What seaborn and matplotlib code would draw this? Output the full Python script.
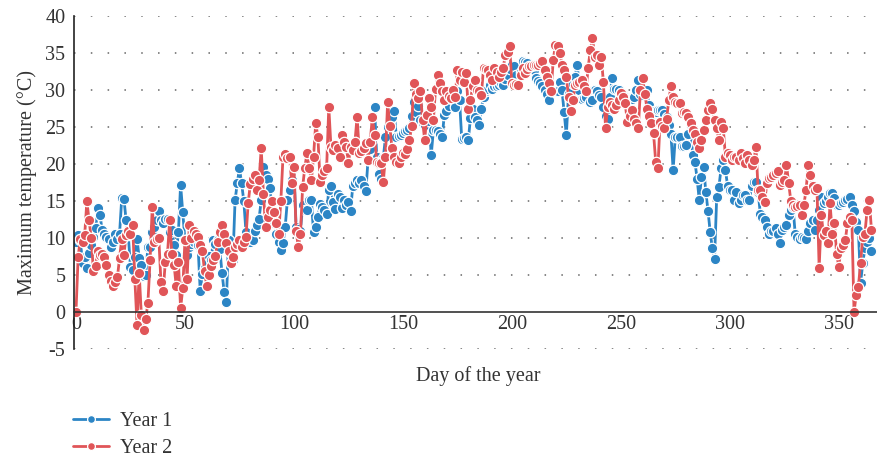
import numpy as np
import pandas as pd
import matplotlib
matplotlib.use("Agg")
import matplotlib.pyplot as plt
import seaborn as sns

year1 = [
    9.5, 10.4, 9.7, 6.6, 7.4, 5.9, 8.0, 9.1, 10.2, 11.3,
    14.0, 13.1, 11.1, 10.5, 10.2, 9.9, 8.8, 9.5, 10.6, 9.9,
    10.6, 15.4, 15.3, 12.4, 10.4, 6.1, 5.7, 7.5, 9.9, 7.3,
    6.4, 4.8, 5.0, 8.8, 8.8, 10.8, 11.5, 12.4, 13.7, 12.4,
    12.0, 12.6, 12.6, 10.8, 11.1, 9.0, 7.7, 10.8, 17.2, 13.5,
    9.7, 7.7, 8.8, 9.2, 9.5, 10.2, 9.0, 2.9, 5.2, 6.0,
    6.6, 7.6, 7.0, 9.7, 9.2, 9.7, 8.5, 5.3, 2.7, 1.4,
    9.7, 8.0, 7.0, 15.1, 17.4, 19.4, 17.4, 15.0, 10.8, 9.3,
    9.5, 9.7, 11.0, 11.8, 12.6, 15.1, 19.6, 18.5, 18.0, 16.7,
    13.8, 12.0, 10.6, 9.5, 8.4, 9.3, 11.5, 15.1, 16.5, 17.8,
    19.4, 11.5, 11.2, 11.0, 14.4, 13.8, 13.8, 15.1, 15.1, 10.8,
    11.5, 12.8, 14.6, 14.2, 13.8, 13.3, 16.5, 17.0, 14.8, 13.9,
    16.0, 15.5, 14.0, 15.2, 14.5, 14.8, 13.7, 17.0, 17.4, 17.8,
    17.4, 17.8, 17.0, 16.3, 20.5, 22.0, 23.2, 27.7, 21.0, 18.7,
    18.0, 20.8, 23.6, 25.0, 26.0, 26.4, 27.1, 23.6, 23.8, 23.9,
    24.2, 24.4, 24.6, 24.8, 26.5, 28.4, 27.0, 27.9, 26.0, 25.5,
    25.3, 25.8, 25.8, 21.2, 24.6, 24.6, 24.4, 24.0, 23.6, 26.6,
    27.2, 27.9, 29.6, 28.6, 27.7, 29.8, 28.6, 23.4, 23.5, 23.7,
    23.2, 26.2, 27.5, 26.4, 26.0, 25.3, 27.5, 29.1, 29.8, 30.2,
    30.7, 30.2, 30.5, 30.5, 30.7, 31.0, 30.7, 31.5, 32.0, 32.8,
    33.4, 33.2, 32.0, 30.7, 32.5, 33.9, 33.8, 33.6, 33.0, 32.8,
    32.7, 31.6, 31.2, 30.9, 30.5, 30.0, 29.5, 28.6, 29.8, 29.8,
    29.8, 29.8, 31.1, 30.0, 27.0, 23.9, 29.5, 30.0, 30.8, 31.8,
    33.4, 30.0, 28.8, 28.9, 29.1, 29.8, 28.4, 28.6, 30.0, 29.8,
    29.3, 29.0, 27.7, 26.5, 26.1, 29.0, 31.6, 30.2, 30.1, 30.0,
    29.6, 29.3, 29.0, 28.8, 28.6, 28.8, 29.1, 30.0, 31.4, 29.5,
    29.3, 30.0, 30.0, 28.0, 26.6, 27.1, 27.0, 27.3, 27.3, 27.3,
    26.8, 26.4, 25.3, 24.0, 19.2, 23.7, 23.7, 23.7, 22.4, 22.5,
    22.6, 24.0, 25.3, 21.2, 20.3, 18.0, 15.1, 18.3, 19.6, 16.2,
    13.7, 10.8, 8.6, 7.2, 15.6, 16.9, 19.4, 20.5, 19.2, 17.0,
    16.5, 16.5, 15.1, 16.2, 14.7, 15.2, 15.8, 15.8, 15.1, 15.1,
    17.0, 17.6, 17.6, 16.2, 13.3, 12.8, 12.4, 11.5, 10.6, 10.9,
    11.0, 11.3, 10.5, 9.3, 11.1, 11.5, 11.8, 13.1, 13.8, 14.2,
    10.6, 10.2, 9.9, 10.2, 10.0, 9.9, 11.0, 12.0, 12.4, 11.1,
    12.5, 13.8, 15.6, 14.7, 15.0, 15.6, 16.1, 16.1, 15.4, 14.5,
    14.5, 14.7, 14.9, 15.1, 15.3, 15.6, 14.5, 13.6, 12.2, 11.1,
    3.9, 6.6, 8.6, 9.5, 10.0, 8.2,
]

year2 = [
    0.0, 7.5, 9.9, 9.5, 10.4, 15.0, 12.4, 10.0, 5.5, 6.2,
    8.2, 7.7, 7.8, 7.5, 6.4, 5.0, 4.2, 3.5, 4.0, 4.7,
    7.3, 9.9, 7.7, 10.4, 11.0, 10.5, 11.7, 4.5, -1.7, 5.3,
    -0.4, -2.4, -0.9, 1.2, 7.0, 14.2, 9.5, 9.8, 10.0, 4.0,
    2.8, 6.8, 7.9, 12.4, 7.9, 6.4, 3.5, 6.8, 0.5, 3.2,
    9.7, 4.5, 11.7, 10.0, 11.0, 10.5, 10.1, 9.0, 8.2, 5.5,
    3.5, 5.0, 6.2, 7.0, 7.6, 9.5, 10.8, 11.7, 10.5, 9.3,
    8.2, 6.6, 7.5, 8.8, 9.2, 9.7, 8.8, 9.5, 10.1, 14.7,
    17.3, 18.0, 18.5, 16.5, 17.8, 22.1, 16.0, 11.5, 12.8, 13.8,
    15.0, 13.5, 12.0, 10.6, 15.0, 21.0, 21.3, 20.8, 21.0, 17.4,
    19.6, 11.0, 8.8, 10.6, 16.9, 19.5, 21.5, 19.4, 17.8, 21.0,
    25.5, 23.7, 17.6, 18.5, 19.0, 19.4, 27.7, 22.3, 21.9, 22.6,
    22.1, 21.0, 23.9, 23.0, 22.3, 20.1, 22.3, 21.9, 23.0, 26.4,
    21.5, 21.7, 22.2, 22.8, 20.5, 23.0, 26.4, 23.9, 20.3, 20.2,
    20.1, 17.6, 21.0, 28.4, 25.1, 22.1, 21.0, 20.3, 20.1, 21.0,
    21.5, 21.3, 22.0, 23.2, 25.1, 30.9, 29.5, 28.9, 29.8, 26.0,
    23.2, 26.6, 28.9, 27.7, 26.0, 30.2, 32.0, 31.0, 29.8, 28.6,
    29.8, 29.2, 28.9, 30.0, 29.1, 32.7, 31.4, 32.5, 31.1, 32.3,
    27.5, 28.6, 30.5, 31.4, 30.0, 29.8, 29.3, 33.0, 32.8, 32.7,
    32.0, 31.4, 33.0, 32.5, 31.8, 32.5, 33.0, 34.7, 35.2, 35.9,
    30.9, 30.7, 30.8, 30.7, 32.0, 33.0, 32.3, 32.8, 33.2, 33.3,
    33.4, 33.4, 33.4, 33.6, 33.9, 32.7, 31.8, 30.9, 29.8, 34.1,
    36.1, 35.9, 35.0, 33.4, 32.7, 31.8, 29.0, 27.1, 28.6, 30.7,
    30.9, 31.1, 31.4, 30.5, 29.8, 33.0, 35.4, 37.0, 34.5, 34.7,
    33.4, 34.5, 31.1, 24.8, 27.7, 28.4, 28.0, 27.5, 28.0, 28.6,
    29.6, 29.0, 28.2, 25.7, 26.5, 27.3, 26.1, 25.5, 24.8, 30.0,
    31.6, 29.5, 27.5, 26.5, 25.5, 24.2, 20.3, 19.4, 25.7, 25.2,
    24.8, 26.1, 28.6, 30.5, 29.1, 28.4, 28.3, 28.2, 26.9, 27.0,
    26.9, 26.4, 25.5, 24.6, 24.0, 23.0, 22.1, 23.3, 24.6, 26.0,
    27.3, 28.2, 27.5, 25.9, 24.8, 23.2, 25.7, 24.8, 21.0, 21.5,
    21.2, 20.5, 21.0, 21.0, 20.5, 21.5, 20.8, 20.2, 21.2, 20.5,
    19.9, 20.5, 22.3, 16.5, 16.5, 15.5, 14.9, 17.4, 18.1, 18.3,
    18.5, 18.8, 19.0, 17.2, 17.6, 17.8, 19.9, 17.4, 15.0, 14.5,
    14.2, 14.3, 14.5, 13.1, 14.5, 16.5, 19.9, 18.5, 17.0, 16.5,
    16.7, 5.9, 13.1, 10.4, 11.0, 9.3, 14.7, 10.6, 12.0, 7.9,
    6.1, 8.6, 9.0, 9.7, 12.0, 12.9, 12.5, 0.0, 2.3, 3.4,
    6.6, 10.2, 10.6, 13.8, 15.1, 11.1,
]

days = list(range(len(year1)))
x_ticks = [0, 50, 100, 150, 200, 250, 300, 350]
y_ticks = [-5, 0, 5, 10, 15, 20, 25, 30, 35, 40]
series_names = ["Year 1", "Year 2"]

sns.set_style("white")
plt.rcParams["font.family"] = ["Liberation Serif", "DejaVu Serif"]
plt.rcParams["text.color"] = "#333333"
plt.rcParams["axes.labelcolor"] = "#333333"
plt.rcParams["xtick.color"] = "#333333"
plt.rcParams["ytick.color"] = "#333333"

blue = "#2C85C5"
red = "#E05558"

fig = plt.figure(figsize=(8.78, 4.58), dpi=100)
ax = fig.add_axes([73.8 / 878, 1 - 349 / 458, 1 - 73.8 / 878, (349 - 16) / 458])

df = pd.DataFrame({"day": days, "Year 1": year1, "Year 2": year2})
for name, col in zip(series_names, [blue, red]):
    sns.lineplot(data=df, x="day", y=name, ax=ax, color=col, linewidth=2.0,
                 marker="o", markersize=7.5, markeredgecolor="white",
                 markeredgewidth=0.9, label=name, legend=False)

ax.set_xlim(-1, 368)
ax.set_ylim(-5, 40)
ax.set_xticks(x_ticks)
ax.set_yticks(y_ticks)
ax.set_yticklabels([str(v) for v in y_ticks])
for v in y_ticks:
    if v != 0:
        ax.axhline(v, color="#666666", linewidth=1.1, linestyle=(0, (1, 10)), zorder=0)

ax.spines["top"].set_visible(False)
ax.spines["right"].set_visible(False)
ax.spines["bottom"].set_position(("data", 0))
ax.spines["bottom"].set_color("#333333")
ax.spines["bottom"].set_linewidth(1.2)
ax.spines["left"].set_color("#222222")
ax.spines["left"].set_linewidth(1.2)
ax.tick_params(axis="both", length=0, labelsize=14.5)
ax.tick_params(axis="x", pad=2)
ax.tick_params(axis="y", pad=6)

ax.set_xlabel("")
ax.set_ylabel("Maximum temperature (°C)", fontsize=14.5, labelpad=6)
fig.text(478 / 878, 1 - 376 / 458, "Day of the year", ha="center", va="center", fontsize=14.5)

handles, labels = ax.get_legend_handles_labels()
leg = fig.legend(handles, labels, loc="upper left", bbox_to_anchor=(65 / 878, 1 - 404 / 458),
                 frameon=False, fontsize=14.5, handlelength=1.8, handletextpad=0.55,
                 labelspacing=0.4, markerscale=0.75, borderaxespad=0)

fig.savefig("out.png", dpi=100)
